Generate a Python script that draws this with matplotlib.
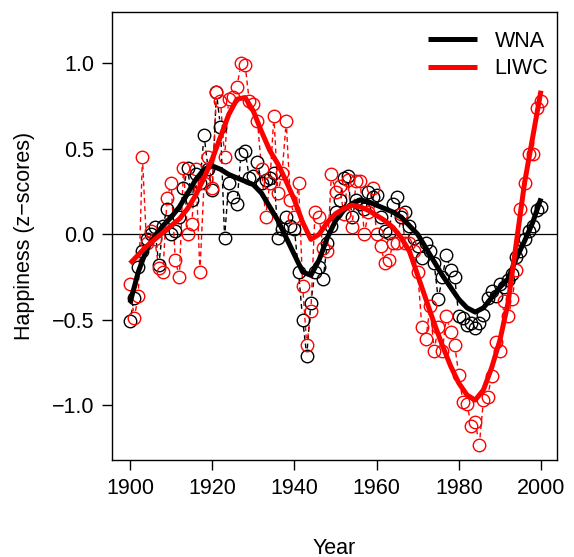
import numpy as np
import matplotlib
matplotlib.use("Agg")
import matplotlib.pyplot as plt

plt.rcParams['font.family'] = ['Liberation Sans', 'DejaVu Sans']

years = list(range(1900, 2001))

wna = [-0.51, -0.37, -0.19, -0.10, -0.03, 0.00, 0.04, -0.18, 0.05, 0.15,
       0.00, 0.02, 0.10, 0.27, 0.39, 0.20, 0.35, 0.30, 0.58, 0.38,
       0.26, 0.83, 0.63, -0.02, 0.30, 0.22, 0.18, 0.47, 0.49, 0.33,
       0.34, 0.42, 0.30, 0.32, 0.33, 0.36, -0.02, 0.03, 0.10, 0.05,
       0.03, -0.22, -0.50, -0.71, -0.40, -0.22, -0.19, -0.26, -0.05, 0.05,
       0.13, 0.20, 0.33, 0.34, 0.10, 0.20, 0.18, 0.15, 0.25, 0.22,
       0.23, 0.10, 0.02, 0.01, 0.18, 0.22, 0.10, 0.13, 0.05, -0.02,
       -0.07, -0.14, -0.05, -0.10, -0.17, -0.38, -0.25, -0.12, -0.21, -0.25,
       -0.48, -0.49, -0.53, -0.52, -0.55, -0.52, -0.47, -0.37, -0.33, -0.36,
       -0.29, -0.31, -0.27, -0.23, -0.13, -0.10, -0.03, 0.02, 0.05, 0.14,
       0.16]

liwc = [-0.29, -0.49, -0.36, 0.45, -0.05, 0.02, -0.03, -0.20, -0.22, 0.21,
        0.30, -0.15, -0.25, 0.39, 0.00, 0.06, 0.38, -0.22, 0.30, 0.45,
        0.27, 0.83, 0.78, 0.45, 0.79, 0.80, 0.86, 1.00, 0.99, 0.78,
        0.76, 0.66, 0.38, 0.10, 0.30, 0.69, 0.24, 0.36, 0.66, 0.20,
        0.10, 0.30, -0.30, -0.65, -0.45, 0.13, 0.10, -0.08, -0.10, 0.35,
        0.25, 0.28, 0.12, 0.32, 0.04, 0.31, 0.31, 0.00, 0.13, 0.27,
        0.00, -0.07, -0.17, -0.15, -0.05, -0.05, 0.12, -0.05, -0.05, -0.10,
        -0.22, -0.54, -0.61, -0.42, -0.68, -0.54, -0.68, -0.48, -0.57, -0.65,
        -0.82, -0.98, -0.99, -1.12, -1.10, -1.23, -0.97, -0.95, -0.83, -0.63,
        -0.68, -0.39, -0.48, -0.38, -0.21, 0.15, 0.30, 0.47, 0.47, 0.74,
        0.78]

smooth_years = list(range(1900, 2001, 2))
wna_smooth = [-0.40, -0.22, -0.09, -0.01, 0.05, 0.10, 0.16, 0.24, 0.32, 0.38,
              0.40, 0.38, 0.35, 0.33, 0.31, 0.29, 0.24, 0.16, 0.08, -0.02,
              -0.12, -0.22, -0.24, -0.15, -0.02, 0.08, 0.14, 0.18, 0.20, 0.19,
              0.17, 0.15, 0.13, 0.10, 0.05, 0.00, -0.08, -0.16, -0.24, -0.31,
              -0.38, -0.43, -0.455, -0.43, -0.37, -0.31, -0.26, -0.14, -0.04, 0.07,
              0.21]
liwc_smooth = [-0.17, -0.12, -0.07, -0.03, 0.01, 0.05, 0.09, 0.15, 0.23, 0.33,
               0.44, 0.57, 0.70, 0.79, 0.80, 0.72, 0.60, 0.49, 0.41, 0.31,
               0.20, 0.07, -0.03, 0.00, 0.07, 0.12, 0.15, 0.17, 0.16, 0.14,
               0.11, 0.08, 0.04, -0.02, -0.10, -0.24, -0.38, -0.52, -0.65, -0.77,
               -0.87, -0.94, -0.97, -0.91, -0.78, -0.62, -0.40, -0.05, 0.30, 0.57,
               0.84]

W, H, DPI = 574, 557, 100
FS = 15.5
fig = plt.figure(figsize=(W / DPI, H / DPI), dpi=DPI)
ax = fig.add_axes([112 / W, 1 - 460 / H, (557 - 112) / W, (460 - 12) / H])
ax.set_xlim(1895.6, 2003.9)
ax.set_ylim(-1.32, 1.30)

ax.axhline(0, color='black', lw=0.9, zorder=1)

ms = 9.0
r_px = ms / 2 * DPI / 72.0 + 1.0


def gapped_dashes(x, y, color):
    pts = ax.transData.transform(np.column_stack([x, y]))
    inv = ax.transData.inverted()
    for i in range(len(pts) - 1):
        p0, p1 = pts[i], pts[i + 1]
        d = p1 - p0
        L = np.hypot(*d)
        if L <= 2 * r_px + 1:
            continue
        u = d / L
        a = inv.transform(p0 + u * r_px)
        b = inv.transform(p1 - u * r_px)
        ax.plot([a[0], b[0]], [a[1], b[1]], color=color, lw=1.0,
                dashes=(3.5, 2.5), zorder=2)


gapped_dashes(years, wna, 'black')
ax.plot(years, wna, 'o', ms=ms, mfc='none', mec='black', mew=1.0, zorder=3)
gapped_dashes(years, liwc, 'red')
ax.plot(years, liwc, 'o', ms=ms, mfc='none', mec='red', mew=1.0, zorder=3)

ax.plot(smooth_years, wna_smooth, color='black', lw=3.6, zorder=4,
        solid_capstyle='butt', label='WNA')
ax.plot(smooth_years, liwc_smooth, color='red', lw=3.6, zorder=5,
        solid_capstyle='butt', label='LIWC')

ax.set_xticks([1900, 1920, 1940, 1960, 1980, 2000])
ax.set_yticks([-1.0, -0.5, 0.0, 0.5, 1.0])
ax.set_yticklabels(['\u22121.0', '\u22120.5', '0.0', '0.5', '1.0'])
ax.tick_params(axis='both', labelsize=FS, length=7, width=1.0, direction='out')
ax.tick_params(axis='x', pad=6)
ax.tick_params(axis='y', pad=6)
for s in ax.spines.values():
    s.set_linewidth(1.0)

fig.text(25 / W, 1 - 236 / H, 'Happiness (z\u2212scores)', fontsize=FS,
         ha='center', va='center', rotation=90)
fig.text(334 / W, 1 - 548 / H, 'Year', fontsize=FS, ha='center', va='center')

leg = ax.legend(loc='upper right', frameon=False, fontsize=FS, handlelength=2.3,
                handletextpad=0.8, labelspacing=0.3,
                bbox_to_anchor=(1.0 + 15 / 445, 1.0 + 5 / 448), borderaxespad=0.7)

fig.savefig('out.png', dpi=DPI)
